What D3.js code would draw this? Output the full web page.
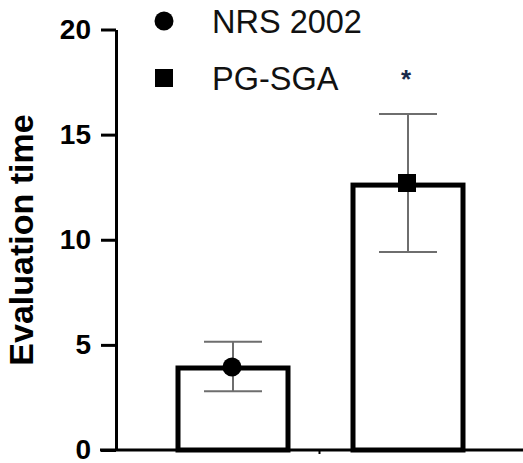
<!DOCTYPE html>
<html>
<head>
<meta charset="utf-8">
<script src="https://cdn.jsdelivr.net/npm/d3@7"></script>
<style>
  body { margin: 0; background: #fff; }
  svg { display: block; font-family: "Liberation Sans", Arial, sans-serif; }
</style>
</head>
<body>
<svg width="523" height="463"></svg>
<script>
// data
const groups = ['NRS 2002', 'PG-SGA'];
const means = [3.9, 12.6];
const markerVals = [3.95, 12.7];
const upper = [5.15, 15.98];
const lower = [2.8, 9.42];
const yTicks = [0, 5, 10, 15, 20];
const stars = ['', '*'];

const svg = d3.select('svg');
const W = 523;
const axisX = 116;

const y = d3.scaleLinear().domain([0, 20]).range([450, 29.5]);
const x = d3.scalePoint().domain(groups).range([233, 408]);
const barW = 110;

// bars
svg.selectAll('rect.bar')
  .data(groups)
  .join('rect')
  .attr('class', 'bar')
  .attr('x', d => x(d) - barW / 2)
  .attr('y', (d, i) => y(means[i]))
  .attr('width', barW)
  .attr('height', (d, i) => y(0) - y(means[i]))
  .attr('fill', '#fff')
  .attr('stroke', '#000')
  .attr('stroke-width', 5);

// error bars
const capW = 58;
const err = svg.append('g').attr('stroke', '#6e6e6e').attr('stroke-width', 2);
groups.forEach((g, i) => {
  const cx = x(g);
  err.append('line').attr('x1', cx).attr('x2', cx).attr('y1', y(upper[i])).attr('y2', y(lower[i]));
  err.append('line').attr('x1', cx - capW / 2).attr('x2', cx + capW / 2).attr('y1', y(upper[i])).attr('y2', y(upper[i]));
  err.append('line').attr('x1', cx - capW / 2).attr('x2', cx + capW / 2).attr('y1', y(lower[i])).attr('y2', y(lower[i]));
});

// markers
const sym = [d3.symbolCircle, d3.symbolSquare];
const symSize = [9.5 * 9.5 * Math.PI, 18 * 18];
svg.selectAll('path.pt')
  .data(groups)
  .join('path')
  .attr('class', 'pt')
  .attr('transform', (d, i) => `translate(${x(d) - 1},${y(markerVals[i])})`)
  .attr('d', (d, i) => d3.symbol(sym[i], symSize[i])())
  .attr('fill', '#000');

// significance star
svg.selectAll('text.star')
  .data(groups)
  .join('text')
  .attr('class', 'star')
  .attr('x', d => x(d) - 2)
  .attr('y', 88)
  .attr('text-anchor', 'middle')
  .attr('font-size', 26)
  .attr('font-weight', 'bold')
  .attr('fill', '#1a2a4a')
  .text((d, i) => stars[i]);

// y axis
const yAxis = svg.append('g')
  .attr('transform', `translate(${axisX},0)`)
  .call(d3.axisLeft(y).tickValues(yTicks).tickSize(15).tickPadding(10).tickSizeOuter(0));
yAxis.select('.domain').attr('stroke', '#000').attr('stroke-width', 3);
yAxis.selectAll('.tick line').attr('stroke', '#000').attr('stroke-width', 3);
yAxis.selectAll('.tick text')
  .attr('font-size', 28)
  .attr('font-weight', 'bold')
  .attr('font-family', '"Liberation Sans", Arial, sans-serif')
  .attr('fill', '#000');

// x axis line
svg.append('line')
  .attr('x1', 100).attr('x2', W)
  .attr('y1', y(0)).attr('y2', y(0))
  .attr('stroke', '#000').attr('stroke-width', 3);
const midX = (x(groups[0]) + x(groups[1])) / 2 - 1;
svg.append('line')
  .attr('x1', midX).attr('x2', midX)
  .attr('y1', y(0)).attr('y2', y(0) + 4)
  .attr('stroke', '#000').attr('stroke-width', 2);

// y label
svg.append('text')
  .attr('transform', 'translate(33,240) rotate(-90)')
  .attr('text-anchor', 'middle')
  .attr('font-size', 34)
  .attr('font-weight', 'bold')
  .text('Evaluation time');

// legend
const leg = svg.append('g');
groups.forEach((g, i) => {
  const ly = 21 + i * 57;
  leg.append('path')
    .attr('transform', `translate(164,${ly})`)
    .attr('d', d3.symbol(sym[i], symSize[i])())
    .attr('fill', '#000');
  leg.append('text')
    .attr('x', 212).attr('y', ly + 12)
    .attr('font-size', 32.5)
    .attr('fill', '#111')
    .text(g);
});
</script>
</body>
</html>
